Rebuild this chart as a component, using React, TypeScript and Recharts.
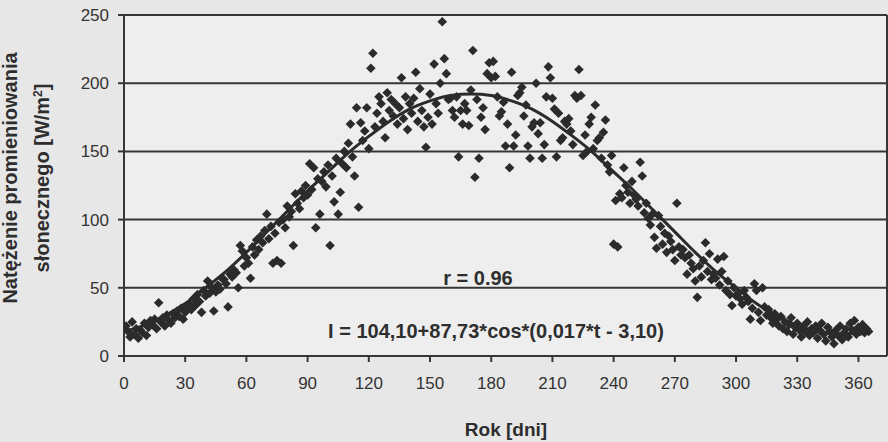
import React from 'react';
import { ScatterChart, Scatter, XAxis, YAxis, ZAxis, CartesianGrid, ReferenceLine } from 'recharts';

// daily values, one array per month
const jan = [22, 18, 14, 25, 16, 20, 13, 19, 17, 24, 15, 21, 26, 23, 27, 20, 39, 25, 28, 22, 30, 26, 24, 31, 28, 33, 29, 35, 27, 32, 36];
const feb = [38, 34, 42, 37, 45, 40, 32, 48, 44, 55, 46, 50, 33, 47, 52, 49, 57, 56, 53, 36, 60, 58, 63, 61, 50, 81, 77, 66];
const mar = [72, 68, 57, 80, 74, 85, 78, 88, 83, 92, 104, 86, 95, 68, 90, 70, 98, 68, 100, 94, 110, 102, 106, 81, 119, 112, 108, 121, 116, 125, 118];
const apr = [141, 122, 138, 94, 130, 104, 128, 135, 124, 140, 81, 132, 113, 145, 104, 120, 141, 150, 138, 156, 170, 146, 132, 182, 109, 171, 158, 165, 182, 152];
const may = [211, 222, 168, 178, 190, 185, 172, 160, 193, 180, 188, 176, 185, 170, 182, 204, 174, 190, 166, 185, 178, 189, 208, 172, 196, 180, 168, 153, 175, 192, 170];
const jun = [214, 185, 178, 200, 245, 218, 207, 188, 189, 180, 175, 190, 146, 180, 170, 185, 180, 169, 195, 224, 131, 188, 145, 175, 182, 166, 207, 215, 204, 216];
const jul = [205, 190, 176, 179, 186, 154, 170, 138, 208, 154, 162, 191, 193, 197, 176, 184, 154, 145, 168, 171, 200, 163, 171, 145, 155, 190, 212, 204, 189, 181, 146];
const aug = [178, 158, 160, 172, 170, 174, 165, 155, 191, 189, 210, 191, 147, 162, 150, 170, 175, 152, 184, 158, 160, 145, 164, 173, 140, 135, 147, 82, 114, 80, 119];
const sep = [116, 138, 125, 120, 112, 128, 118, 115, 110, 142, 132, 105, 112, 101, 96, 104, 87, 79, 103, 95, 82, 90, 76, 88, 84, 78, 70, 112, 80, 74];
const oct = [78, 72, 60, 74, 68, 64, 55, 43, 66, 58, 70, 83, 62, 75, 56, 60, 57, 71, 52, 62, 73, 48, 55, 45, 37, 50, 44, 46, 42, 38, 48];
const nov = [43, 40, 27, 35, 53, 48, 32, 26, 50, 36, 30, 34, 28, 24, 31, 27, 22, 29, 20, 25, 18, 23, 28, 16, 21, 24, 19, 14, 22, 18];
const dec = [25, 15, 20, 17, 22, 13, 19, 24, 16, 11, 21, 18, 14, 9, 19, 15, 22, 12, 17, 20, 14, 24, 19, 26, 16, 21, 18, 23, 17, 20, 18];

// fitted curve, read every 10 days
const curveDays = [0, 10, 20, 30, 40, 50, 60, 70, 80, 90, 100, 110, 120, 130, 140, 150, 160, 170, 180, 190, 200, 210, 220, 230, 240, 250, 260, 270, 280, 290, 300, 310, 320, 330, 340, 350, 360, 365];
const curveValues = [18, 22.5, 29.5, 38.5, 50, 62, 76, 91, 106, 121, 135, 149, 161, 172, 181, 187, 191, 192, 191, 187, 181, 172, 161, 149, 135, 121, 106, 91, 76, 62, 50, 38.5, 29.5, 22.5, 18, 16, 17, 18];

const xTicks = [0, 30, 60, 90, 120, 150, 180, 210, 240, 270, 300, 330, 360];
const yTicks = [0, 50, 100, 150, 200, 250];

let day = 0;
const points = [jan, feb, mar, apr, may, jun, jul, aug, sep, oct, nov, dec].flatMap((m) =>
  m.map((v) => ({ t: ++day, v }))
);
const curve = curveDays.map((t, i) => ({ t, v: curveValues[i] }));

const INK = '#363636';
const FONT = '"Liberation Sans", Arial, sans-serif';

const Diamond = (props: any) => {
  const { cx, cy } = props;
  const r = 4.8;
  return <polygon points={`${cx},${cy - r} ${cx + r},${cy} ${cx},${cy + r} ${cx - r},${cy}`} fill="#2b2b2b" />;
};

const NoDot = () => <g />;

const App: React.FC = () => {
  return (
    <div style={{ position: 'absolute', left: 0, top: 0, width: 888, height: 442, background: '#e7e7e7', fontFamily: FONT }}>
      <ScatterChart width={888} height={442} margin={{ top: 15, right: 1, left: 0, bottom: 46 }}>
        <CartesianGrid vertical={false} stroke={INK} strokeWidth={2} fill="#eeeeee" />
        <XAxis
          type="number"
          dataKey="t"
          domain={[0, 374]}
          ticks={xTicks}
          height={40}
          stroke={INK}
          strokeWidth={2}
          tickSize={6}
          tickMargin={15}
          tick={{ fill: '#333', fontSize: 17, fontFamily: FONT }}
          allowDataOverflow
        />
        <YAxis
          type="number"
          dataKey="v"
          domain={[0, 250]}
          ticks={yTicks}
          width={124}
          stroke={INK}
          strokeWidth={2}
          tickSize={6}
          tickMargin={9}
          tick={{ fill: '#333', fontSize: 17, fontFamily: FONT }}
        />
        <ZAxis range={[40, 40]} />
        <ReferenceLine x={374} stroke={INK} strokeWidth={2} />
        <Scatter data={points} shape={<Diamond />} isAnimationActive={false} />
        <Scatter
          data={curve}
          shape={<NoDot />}
          line={{ stroke: '#2b2b2b', strokeWidth: 3 }}
          lineJointType="monotoneX"
          isAnimationActive={false}
        />
      </ScatterChart>
      <svg width={888} height={442} style={{ position: 'absolute', left: 0, top: 0, pointerEvents: 'none' }}>
        <g fontFamily={FONT} fontWeight="bold" fill="#2e2e2e">
          <text x={17} y={178} fontSize={20} textAnchor="middle" transform="rotate(-90 17 178)">
            Natężenie promieniowania
          </text>
          <text x={49} y={178} fontSize={20} textAnchor="middle" transform="rotate(-90 49 178)">
            słonecznego [W/m<tspan dy={-7} fontSize={12}>2</tspan><tspan dy={7}>]</tspan>
          </text>
          <text x={506} y={436} fontSize={19} textAnchor="middle">Rok [dni]</text>
          <text x={478} y={285} fontSize={20} textAnchor="middle">r = 0.96</text>
          <text x={496} y={338} fontSize={20} textAnchor="middle">I = 104,10+87,73*cos*(0,017*t - 3,10)</text>
        </g>
      </svg>
    </div>
  );
};

export default App;
